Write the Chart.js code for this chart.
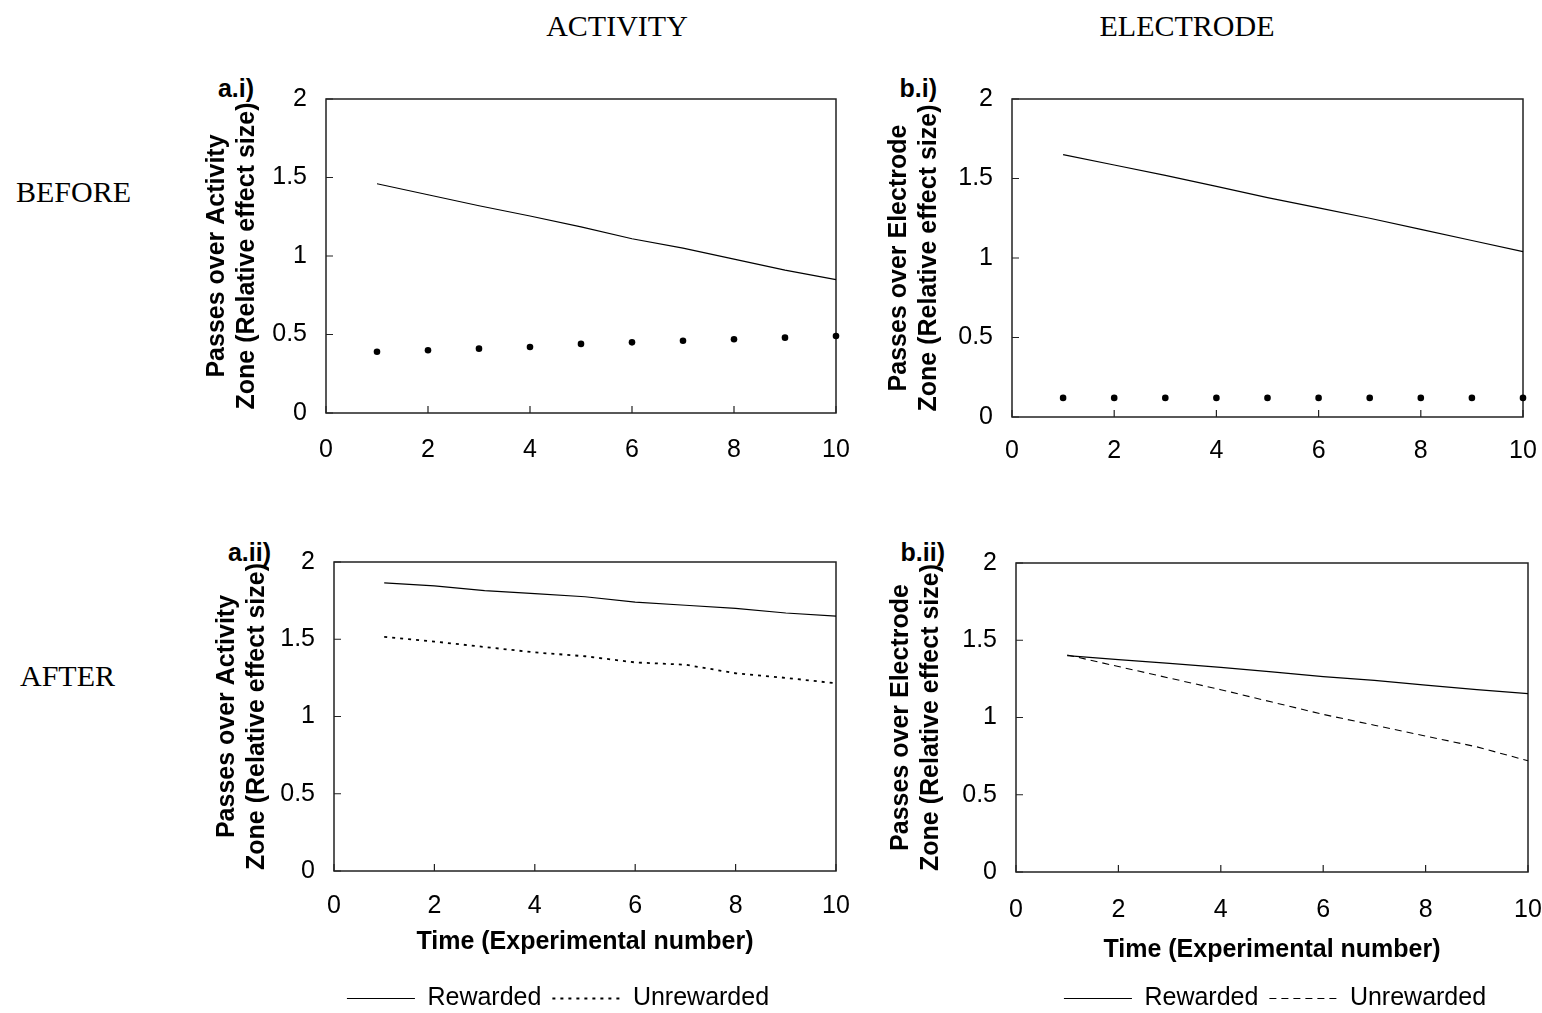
<!DOCTYPE html>
<html>
<head>
<meta charset="utf-8">
<script src="https://cdn.jsdelivr.net/npm/chart.js@4.4.1/dist/chart.umd.min.js"></script>
<style>
  html, body { margin: 0; padding: 0; background: #fff; overflow: hidden; }
  body { width: 1542px; height: 1013px; position: relative; }
  canvas { position: absolute; }
  .lbl { position: absolute; white-space: nowrap; line-height: 1; color: #000; }
  .serif { font-family: 'Liberation Serif', 'Times New Roman', serif; font-size: 30px; }
  .tag { font-family: 'Liberation Sans', Arial, sans-serif; font-weight: bold; font-size: 25px; }
  .c { transform: translate(-50%, -50%); }
  .l { transform: translate(0, -50%); }
  .r { transform: translate(-100%, -50%); }
</style>
</head>
<body>
<div class="lbl serif c" style="left:617px; top:26px;">ACTIVITY</div>
<div class="lbl serif c" style="left:1187px; top:26px;">ELECTRODE</div>
<div class="lbl serif l" style="left:16px; top:192px;">BEFORE</div>
<div class="lbl serif l" style="left:20px; top:676px;">AFTER</div>
<div class="lbl tag r" style="left:254px; top:88px;">a.i)</div>
<div class="lbl tag r" style="left:937px; top:88px;">b.i)</div>
<div class="lbl tag r" style="left:271px; top:552px;">a.ii)</div>
<div class="lbl tag r" style="left:945px; top:552px;">b.ii)</div>

<script>
// ---- data ----
const experiments = [1, 2, 3, 4, 5, 6, 7, 8, 9, 10];
const xTickValues = [0, 2, 4, 6, 8, 10];
const yTickValues = [0, 0.5, 1, 1.5, 2];
const yTickLabels = ['0', '0.5', '1', '1.5', '2'];
const seriesNames = ['Rewarded', 'Unrewarded'];

const activityBeforeRewarded   = [1.46, 1.39, 1.32, 1.255, 1.185, 1.11, 1.05, 0.98, 0.91, 0.85];
const activityBeforeUnrewarded = [0.39, 0.40, 0.41, 0.42, 0.44, 0.45, 0.46, 0.47, 0.48, 0.49];
const electrodeBeforeRewarded   = [1.65, 1.585, 1.52, 1.45, 1.38, 1.315, 1.25, 1.18, 1.11, 1.04];
const electrodeBeforeUnrewarded = [0.12, 0.12, 0.12, 0.12, 0.12, 0.12, 0.12, 0.12, 0.12, 0.12];
const activityAfterRewarded   = [1.865, 1.845, 1.815, 1.795, 1.775, 1.74, 1.72, 1.70, 1.67, 1.65];
const activityAfterUnrewarded = [1.515, 1.485, 1.45, 1.415, 1.39, 1.35, 1.335, 1.28, 1.25, 1.215];
const electrodeAfterRewarded   = [1.40, 1.375, 1.35, 1.325, 1.295, 1.265, 1.24, 1.21, 1.18, 1.155];
const electrodeAfterUnrewarded = [1.405, 1.33, 1.255, 1.18, 1.10, 1.02, 0.95, 0.88, 0.81, 0.72];

const activityAxisTitle  = ['Passes over Activity', 'Zone (Relative effect size)'];
const electrodeAxisTitle = ['Passes over Electrode', 'Zone (Relative effect size)'];
const timeAxisTitle = 'Time (Experimental number)';

// ---- styling / layout ----
Chart.defaults.font.family = "'Liberation Sans', Arial, Helvetica, sans-serif";
Chart.defaults.font.size = 25;
Chart.defaults.color = '#000';

const INK = '#000';
const FRAME = '#222';
const AXIS_W = 135;      // room left of the plot for tick labels and axis title
const TOP_PAD = 30;
const RIGHT_PAD = 45;    // wider than the last x label's half width plus its padding
const CANVAS_BOTTOM = 1012;
const LEGEND_H = 37;

// plot frame plus inward tick marks
const frameAndTicks = {
  id: 'frameAndTicks',
  beforeDatasetsDraw(chart) {
    const { ctx, chartArea: a, scales: { x, y } } = chart;
    ctx.save();
    ctx.strokeStyle = FRAME;
    ctx.lineWidth = 1.5;
    ctx.strokeRect(a.left, a.top, a.right - a.left, a.bottom - a.top);
    ctx.lineWidth = 1.2;
    ctx.beginPath();
    x.ticks.forEach(t => {
      const px = x.getPixelForValue(t.value);
      ctx.moveTo(px, a.bottom);
      ctx.lineTo(px, a.bottom - 7);
    });
    y.ticks.forEach(t => {
      const py = y.getPixelForValue(t.value);
      ctx.moveTo(a.left, py);
      ctx.lineTo(a.left + 7, py);
    });
    ctx.stroke();
    ctx.restore();
  }
};

// keeps the legend strip at a fixed height
const legendHeight = {
  id: 'legendHeight',
  afterInit(chart, args, opts) {
    const lg = chart.legend;
    if (!lg || !opts || !opts.height) return;
    const fit = lg.fit.bind(lg);
    lg.fit = function () { fit(); this.height = opts.height; };
  }
};

function points(values) {
  return experiments.map((x, i) => ({ x, y: values[i] }));
}

function legendLabels(chart) {
  const items = Chart.defaults.plugins.legend.labels.generateLabels(chart);
  items.forEach(it => {
    const ds = chart.data.datasets[it.datasetIndex];
    it.lineDash = ds.borderDash || [];
    it.lineWidth = ds.borderWidth;
    it.strokeStyle = ds.borderColor;
    it.pointStyle = 'line';
  });
  return items;
}

const panels = [
  { plot: { l: 326, r: 836, t: 95, b: 413 }, yTitle: activityAxisTitle, yTitlePad: 11, xLabelPad: 22,
    rewarded: activityBeforeRewarded, unrewarded: activityBeforeUnrewarded, after: false },
  { plot: { l: 1012, r: 1523, t: 95, b: 417 }, yTitle: electrodeAxisTitle, yTitlePad: 7, xLabelPad: 19,
    rewarded: electrodeBeforeRewarded, unrewarded: electrodeBeforeUnrewarded, after: false },
  { plot: { l: 334, r: 836, t: 558, b: 871 }, yTitle: activityAxisTitle, yTitlePad: 13, xLabelPad: 20,
    xTitleCenter: 942, canvasRight: 917,
    rewarded: activityAfterRewarded, unrewarded: activityAfterUnrewarded, after: true, dash: [3, 5], dashWidth: 1.8 },
  { plot: { l: 1016, r: 1528, t: 559, b: 872 }, yTitle: electrodeAxisTitle, yTitlePad: 5, xLabelPad: 23,
    xTitleCenter: 950, canvasRight: 1669,
    rewarded: electrodeAfterRewarded, unrewarded: electrodeAfterUnrewarded, after: true, dash: [7, 5], dashWidth: 1.1 }
];

function drawPanel(p) {
  const left = p.plot.l - AXIS_W;
  const top = p.plot.t - TOP_PAD;
  const right = p.after ? p.canvasRight : p.plot.r + RIGHT_PAD;
  const width = right - left;
  const height = p.after ? CANVAS_BOTTOM - top : TOP_PAD + (p.plot.b - p.plot.t) + 70;
  const xAxisH = p.after ? (CANVAS_BOTTOM - LEGEND_H) - p.plot.b : 70;

  const cv = document.createElement('canvas');
  cv.width = width; cv.height = height;
  cv.style.left = left + 'px'; cv.style.top = top + 'px';
  cv.style.width = width + 'px'; cv.style.height = height + 'px';
  document.body.appendChild(cv);

  const datasets = [
    { label: seriesNames[0], data: points(p.rewarded), borderColor: INK, backgroundColor: INK,
      borderWidth: 1.2, pointRadius: 0, tension: 0, clip: false },
    p.after
      ? { label: seriesNames[1], data: points(p.unrewarded), borderColor: INK, backgroundColor: INK,
          borderWidth: p.dashWidth, borderDash: p.dash, pointRadius: 0, tension: 0, clip: false }
      : { label: seriesNames[1], data: points(p.unrewarded), showLine: false, borderColor: INK,
          backgroundColor: INK, pointRadius: 3.3, pointBorderWidth: 0, pointBackgroundColor: INK, clip: false }
  ];

  const scales = {
    x: {
      type: 'linear', min: xTickValues[0], max: xTickValues[xTickValues.length - 1],
      grid: { display: false, drawTicks: false }, border: { display: false },
      ticks: { padding: p.xLabelPad, maxRotation: 0, autoSkip: false, color: INK,
               callback: v => String(v) },
      afterBuildTicks: s => { s.ticks = xTickValues.map(value => ({ value })); },
      afterFit: s => { s.height = xAxisH; },
      title: p.after ? {
        display: true, text: timeAxisTitle, color: INK,
        font: { size: 25, weight: 'bold', lineHeight: 1.2 },
        padding: { top: 0, bottom: (CANVAS_BOTTOM - LEGEND_H) - p.xTitleCenter - 15 }
      } : { display: false }
    },
    y: {
      type: 'linear', min: yTickValues[0], max: yTickValues[yTickValues.length - 1],
      grid: { display: false, drawTicks: false }, border: { display: false },
      ticks: { padding: 19, color: INK,
               callback: (v, i) => yTickLabels[i] },
      afterBuildTicks: s => { s.ticks = yTickValues.map(value => ({ value })); },
      afterFit: s => { s.width = AXIS_W; },
      title: {
        display: true, text: p.yTitle, color: INK,
        font: { size: 25, weight: 'bold', lineHeight: 1.2 },
        padding: { top: p.yTitlePad, bottom: 0 }
      }
    }
  };
  if (p.after) {
    // empty right-hand strip so the legend can sit under the whole figure column
    scales.gap = {
      type: 'linear', axis: 'y', position: 'right', display: true,
      grid: { display: false, drawTicks: false }, border: { display: false },
      ticks: { display: false },
      afterFit: s => { s.width = right - p.plot.r; }
    };
  }

  new Chart(cv, {
    type: 'line',
    data: { datasets },
    options: {
      responsive: false, animation: false, devicePixelRatio: 1,
      layout: { padding: { top: TOP_PAD, right: p.after ? 0 : RIGHT_PAD, bottom: 0, left: 0 } },
      plugins: {
        tooltip: { enabled: false },
        legend: p.after ? {
          display: true, position: 'bottom', align: 'center',
          labels: {
            usePointStyle: true, pointStyle: 'line', pointStyleWidth: 68, boxWidth: 68,
            padding: 11, color: INK, font: { size: 25 }, generateLabels: legendLabels
          }
        } : { display: false },
        legendHeight: { height: p.after ? LEGEND_H : 0 }
      },
      scales
    },
    plugins: [frameAndTicks, legendHeight]
  });
}

panels.forEach(drawPanel);
</script>
</body>
</html>
